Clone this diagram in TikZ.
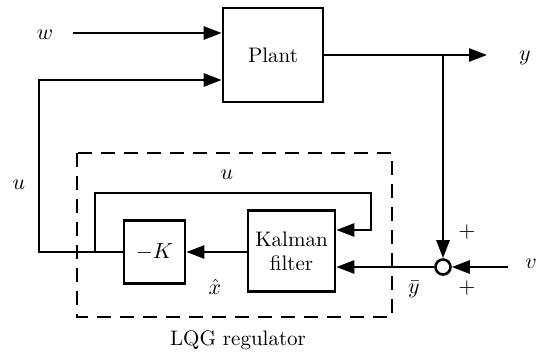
\documentclass[tikz,border=0pt]{standalone}
\usetikzlibrary{arrows.meta,calc}
\begin{document}
\begin{tikzpicture}[x=0.5pt,y=-0.5pt,
  line width=1.3pt,
  every node/.style={font=\fontsize{10.5}{12}\selectfont},
  blockbox/.style={draw,line width=1.3pt,rectangle,inner sep=0pt,align=center},
  arr/.style={-{Triangle[length=9pt,width=6.5pt]}},
  lqgbox/.style={draw,line width=1.3pt,dash pattern=on 7pt off 4.5pt},
  sumnode/.style={draw,circle,line width=1.3pt,minimum size=7.5pt,inner sep=0pt}]
\useasboundingbox (0,0) rectangle (540,360);
% dashed regulator frame
\draw[lqgbox] (77,153) rectangle (392,317);
% blocks
\node[blockbox,minimum width=50pt,minimum height=47pt] (plant) at (273,55) {Plant};
\node[blockbox,minimum width=30.5pt,minimum height=31.5pt] (negK) at (154.5,252) {$-K$};
\node[blockbox,minimum width=43.5pt,minimum height=40.5pt] (kalman) at (291.5,251) {Kalman\\filter};
\node[sumnode] (sum) at (443,267) {};
% coordinates
\coordinate (win) at (73,33);
\coordinate (ucorner) at (39,80);
\coordinate (uj) at (95,252);
\coordinate (ur) at (371,193);
\coordinate (ukal) at (371,230);
\coordinate (yout) at (487,55);
\coordinate (vin) at (508,267);
\coordinate (br) at (443,55);
% connectors
\draw[arr] (win) -- (win -| plant.west);
\draw[arr] (negK.west) -| (ucorner) -- (ucorner -| plant.west);
\draw[arr] (uj) |- (ur) -- (ukal) -- (ukal -| kalman.east);
\draw[arr] (negK.east -| kalman.west) -- (negK.east);
\draw[arr] (plant.east) -- (yout);
\draw[arr] (br) -- (sum.north);
\draw[arr] (sum.west) -- (sum.west -| kalman.east);
\draw[arr] (vin) -- (sum.east);
% labels
\node (lw) at (45,35) {$w$};
\node (ly) at (525,58) {$y$};
\node (lu) at (19,185) {$u$};
\node (lu2) at (227,175) {$u$};
\node (lx) at (215,287) {$\hat{x}$};
\node (lyb) at (414,289) {$\bar{y}$};
\node (lp1) at (467,232) {$+$};
\node (lp2) at (467,288) {$+$};
\node (lv) at (531,264) {$v$};
\node (lqg) at (238,340) {LQG regulator};
\end{tikzpicture}
\end{document}
